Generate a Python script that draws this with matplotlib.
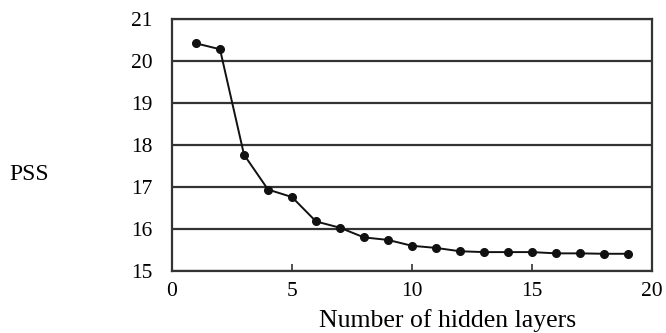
import matplotlib
matplotlib.use("Agg")
import matplotlib.pyplot as plt

layers = [1, 2, 3, 4, 5, 6, 7, 8, 9, 10, 11, 12, 13, 14, 15, 16, 17, 18, 19]
pss = [20.42, 20.28, 17.77, 16.94, 16.76, 16.18, 16.03, 15.80, 15.74, 15.60,
       15.55, 15.47, 15.45, 15.45, 15.45, 15.42, 15.42, 15.41, 15.41]
xticks = [0, 5, 10, 15, 20]
yticks = [15, 16, 17, 18, 19, 20, 21]

plt.rcParams['font.family'] = ['Liberation Serif', 'DejaVu Serif']

fig = plt.figure(figsize=(6.66, 3.33), dpi=100)
ax = fig.add_axes([172/666, 1 - 271/333, (652 - 172)/666, (271 - 19)/333])

ax.set_xlim(0, 20)
ax.set_ylim(15, 21)
ax.set_yticks(yticks)
ax.set_xticks(xticks)
ax.grid(axis='y', color='#333333', linewidth=1.6)
ax.set_axisbelow(True)
for s in ax.spines.values():
    s.set_color('#333333')
    s.set_linewidth(1.6)

ax.plot(layers, pss, color='#111111', linewidth=1.4, marker='o',
        markersize=5.5, markerfacecolor='#111111', markeredgecolor='#111111', zorder=3)

ax.tick_params(axis='x', direction='in', length=5, width=1.2, color='#333333',
               labelsize=15.5, pad=8)
ax.tick_params(axis='y', length=0, labelsize=15.5, pad=14)

fig.text(448/666, 1 - 321/333, 'Number of hidden layers', ha='center', va='center',
         fontsize=18.5)
fig.text(29/666, 1 - 175/333, 'PSS', ha='center', va='center', fontsize=17)

fig.savefig('out.png', dpi=100)
